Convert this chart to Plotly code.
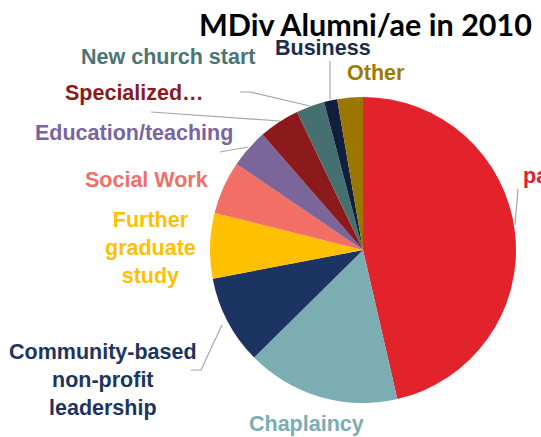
import plotly.graph_objects as go

# Data (share of MDiv alumni/ae, %)
categories = ["parish", "Chaplaincy", "Community-based non-profit leadership",
              "Further graduate study", "Social Work", "Education/teaching",
              "Specialized...", "New church start", "Business", "Other"]
values = [46.4, 16.2, 9.4, 6.9, 5.6, 4.1, 4.3, 3.0, 1.4, 2.7]
colors = ["#e3232c", "#7badb3", "#1c3461", "#fec000", "#f26f66",
          "#7a6699", "#8c1a1d", "#45706f", "#111f3d", "#9b7700"]

W, H = 541, 437

def px_x(x):
    return x / W

def px_y(y):
    return 1 - y / H

fig = go.Figure()
fig.add_trace(go.Pie(
    labels=categories, values=values, sort=False, direction="clockwise",
    rotation=0, marker=dict(colors=colors, line=dict(width=0)),
    textinfo="none", hoverinfo="label+percent", showlegend=False,
    domain=dict(x=[px_x(210), px_x(516)], y=[px_y(403), px_y(97)]),
))

# label text, position (px), anchor, colour
labels = [
    ("New church start", 168, 57, "center", "#4a7574"),
    ("Business", 323, 48, "center", "#1c2b4a"),
    ("Other", 376, 73, "center", "#9c7a00"),
    ("Specialized…", 134, 93, "center", "#8b1a1e"),
    ("Education/teaching", 134, 133, "center", "#7a64a0"),
    ("Social Work", 146, 180, "center", "#f07068"),
    ("Further<br>graduate<br>study", 150, 248, "center", "#ffc000"),
    ("Community-based<br>non-profit<br>leadership", 103, 380, "center", "#1e3460"),
    ("Chaplaincy", 306, 424, "center", "#7badb4"),
    ("parish", 521, 176, "left", "#e3232c"),
]
for text, x, y, anchor, col in labels:
    fig.add_annotation(
        x=px_x(x), y=px_y(y), xref="paper", yref="paper", text="<b>" + text + "</b>",
        showarrow=False, xanchor=anchor, yanchor="middle", align="center",
        font=dict(family="Liberation Sans", size=21.5, color=col),
    )

# leader lines
leaders = [
    [(240, 92), (250, 92), (310, 106)],
    [(151, 112), (280, 121)],
    [(220, 152), (248, 147)],
    [(330, 61), (330, 99)],
    [(191, 370), (201, 370), (222, 325)],
    [(518, 189), (515, 225)],
]
for pts in leaders:
    path = "M " + " L ".join(f"{px_x(a)},{px_y(b)}" for a, b in pts)
    fig.add_shape(type="path", path=path, xref="paper", yref="paper",
                  line=dict(color="#a6a6a6", width=1.2))

fig.add_annotation(
    x=px_x(197), y=px_y(24), xref="paper", yref="paper",
    text="<b>MDiv Alumni/ae in 2010</b>", showarrow=False,
    xanchor="left", yanchor="middle",
    font=dict(family="Lato", size=30.5, color="#000000"),
)

fig.update_layout(
    width=W, height=H, margin=dict(l=0, r=0, t=0, b=0),
    paper_bgcolor="white", plot_bgcolor="white",
)

fig.write_html("out.html", config={"displayModeBar": False},
               post_script="document.body.style.margin='0';")
